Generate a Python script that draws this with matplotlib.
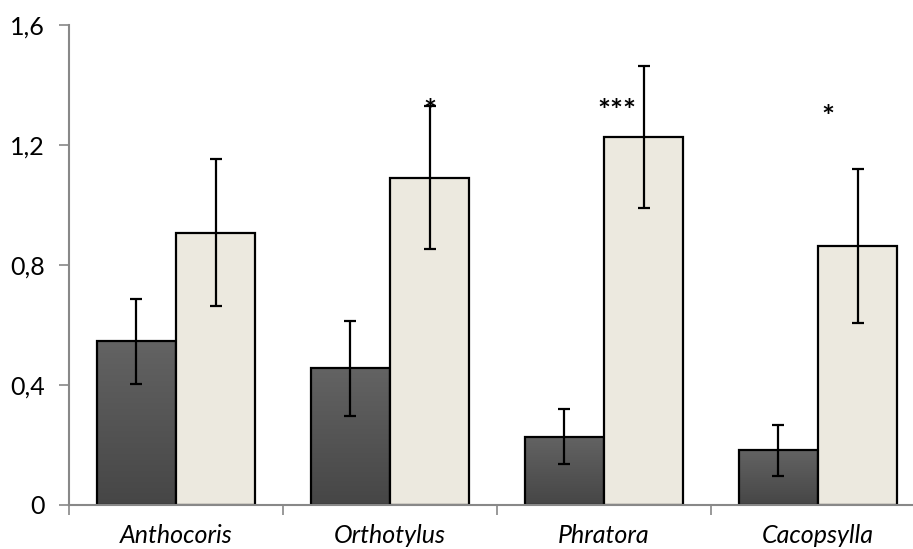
import numpy as np
import matplotlib
matplotlib.use("Agg")
import matplotlib.pyplot as plt

# values
species = ['Anthocoris', 'Orthotylus', 'Phratora', 'Cacopsylla']
dark_mean = [0.546, 0.456, 0.228, 0.183]
dark_low = [0.402, 0.298, 0.136, 0.098]
dark_high = [0.688, 0.612, 0.319, 0.267]
light_mean = [0.908, 1.090, 1.226, 0.864]
light_low = [0.664, 0.854, 0.991, 0.606]
light_high = [1.153, 1.330, 1.464, 1.120]
stars = ['', '*', '***', '*']
star_y = [0, 1.317, 1.32, 1.297]

# star placement relative to the light bar centre (axis units)
star_dx = [0, 0.0, -0.126, -0.14]

plt.rcParams['font.family'] = ['Lato', 'DejaVu Sans']

fig = plt.figure(figsize=(9.13, 5.49), dpi=100)
ax = fig.add_axes([69 / 913, 44 / 549, (913 - 69) / 913, 480 / 549])

x = np.arange(len(species))
w = 0.37


def err(mean, lo, hi):
    return [np.array(mean) - np.array(lo), np.array(hi) - np.array(mean)]


dark_bars = ax.bar(x - w / 2, dark_mean, w, color='none', edgecolor='black',
                   linewidth=1.6, zorder=3)
light_bars = ax.bar(x + w / 2, light_mean, w, color='#ECE9DF', edgecolor='black',
                    linewidth=1.6, zorder=3)

# vertical gradient for the dark bars
grad = np.linspace(0, 1, 256).reshape(-1, 1)
cmap = matplotlib.colors.LinearSegmentedColormap.from_list('g', ['#464646', '#636363'])
for b in dark_bars:
    x0, y0 = b.get_x(), b.get_y()
    im = ax.imshow(grad, extent=[x0, x0 + b.get_width(), y0, y0 + b.get_height()],
                   cmap=cmap, origin='lower', aspect='auto', zorder=2.5)
    im.set_clip_path(b)

ax.errorbar(x - w / 2, dark_mean, yerr=err(dark_mean, dark_low, dark_high), fmt='none',
            ecolor='black', elinewidth=1.6, capsize=4.5, capthick=1.6, zorder=4)
ax.errorbar(x + w / 2, light_mean, yerr=err(light_mean, light_low, light_high), fmt='none',
            ecolor='black', elinewidth=1.6, capsize=4.5, capthick=1.6, zorder=4)

for i, s in enumerate(stars):
    if s:
        ax.text(x[i] + w / 2 + star_dx[i], star_y[i], s, ha='center', va='center_baseline',
                fontsize=22, fontweight='bold', zorder=5)

ax.set_xlim(-0.5, 3.444)
ax.set_ylim(0, 1.6)
ax.set_yticks([0, 0.4, 0.8, 1.2, 1.6])
ax.set_yticklabels(['0', '0,4', '0,8', '1,2', '1,6'])
ax.set_xticks([-0.5, 0.5, 1.5, 2.5])
ax.set_xticklabels([])
ax.set_xticks(x, minor=True)
ax.set_xticklabels(species, minor=True, fontstyle='italic', fontsize=18)
ax.tick_params(axis='x', which='minor', length=0, pad=14)
ax.tick_params(axis='x', which='major', direction='out', length=7, color='#888888', width=1.2)
ax.tick_params(axis='y', direction='out', length=7, color='#888888', width=1.2,
               labelsize=18, pad=10.5)

for side in ['top', 'right']:
    ax.spines[side].set_visible(False)
for side in ['left', 'bottom']:
    ax.spines[side].set_color('#888888')
    ax.spines[side].set_linewidth(1.5)
ax.spines['bottom'].set_zorder(5)

fig.savefig('out.png', dpi=100)
